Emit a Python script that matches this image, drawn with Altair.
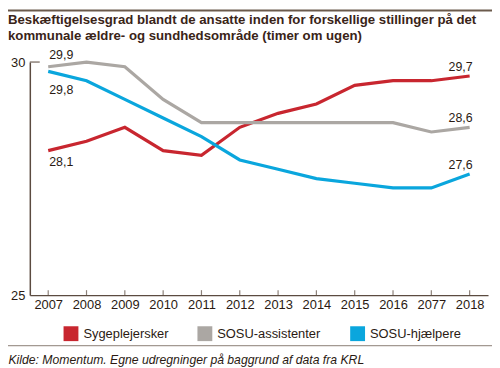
import altair as alt
import pandas as pd

years = ["2007", "2008", "2009", "2010", "2011", "2012", "2013", "2014", "2015", "2016", "2077", "2018"]
syge = [28.1, 28.3, 28.6, 28.1, 28.0, 28.6, 28.9, 29.1, 29.5, 29.6, 29.6, 29.7]
assist = [29.9, 30.0, 29.9, 29.2, 28.7, 28.7, 28.7, 28.7, 28.7, 28.7, 28.5, 28.6]
hjaelp = [29.8, 29.6, 29.2, 28.8, 28.4, 27.9, 27.7, 27.5, 27.4, 27.3, 27.3, 27.6]
series = ["Sygeplejersker", "SOSU-assistenter", "SOSU-hjælpere"]
colors = ["#c8262f", "#aba7a3", "#0aa6dd"]
title_lines = [
    "Beskæftigelsesgrad blandt de ansatte inden for forskellige stillinger på det",
    "kommunale ældre- og sundhedsområde (timer om ugen)",
]
source = "Kilde: Momentum. Egne udregninger på baggrund af data fra KRL"

W, H = 462, 235
TXT = "#2a1a12"
AX = "#5b4b40"
FONT = "Liberation Sans"

rows = []
for name, vals in zip(series, [syge, assist, hjaelp]):
    for y, v in zip(years, vals):
        rows.append({"year": y, "value": v, "series": name})
df = pd.DataFrame(rows)


def lab(v):
    return f"{v:.1f}".replace(".", ",")


xscale = alt.Scale(type="point", domain=years, padding=0.48)
yscale = alt.Scale(domain=[25, 30], nice=False, zero=False)

lines = alt.Chart(df).mark_line(strokeWidth=3.2).encode(
    x=alt.X("year:O", scale=xscale, sort=years,
            axis=alt.Axis(title=source, titleFontStyle="italic", titleFontWeight="normal",
                          titleFont=FONT, titleFontSize=12.3, titleColor=TXT,
                          titleAnchor="start", titleAlign="left", titleX=-22, titleY=69,
                          titleBaseline="alphabetic",
                          labelAngle=0, labelAlign="center", labelFont=FONT, labelFontSize=13,
                          labelColor=TXT, labelPadding=9, ticks=False, domainColor=AX,
                          domainWidth=1.5, grid=False)),
    y=alt.Y("value:Q", scale=yscale,
            axis=alt.Axis(title=None, values=[25, 30], ticks=False, labelPadding=5,
                          labelFont=FONT, labelFontSize=13, labelColor=TXT,
                          domainColor=AX, domainWidth=1.5, grid=False)),
    color=alt.Color("series:N", scale=alt.Scale(domain=series, range=colors),
                    legend=alt.Legend(title=None, orient="none", direction="horizontal",
                                      legendX=34, legendY=266, symbolType="square",
                                      symbolSize=56, symbolStrokeWidth=7.5, symbolOpacity=1,
                                      labelFont=FONT, labelFontSize=13,
                                      labelColor=TXT, columnPadding=17, labelOffset=5)),
    detail="series:N",
)

xticks = alt.Chart(pd.DataFrame({"year": years})).mark_tick(
    color=AX, orient="vertical", size=5, thickness=1.2, yOffset=-2.5
).encode(
    x=alt.X("year:O", scale=xscale, sort=years),
    y=alt.datum(25),
)

ytick = alt.Chart(pd.DataFrame({"v": [30]})).mark_tick(
    color=AX, orient="horizontal", size=10, thickness=1.5
).encode(
    y=alt.Y("v:Q", scale=yscale),
    x=alt.value(5),
)

# endpoint labels: (year, value, dy, align, dx)
label_specs = [
    (years[0], assist[0], -12, "left", 1),
    (years[0], hjaelp[0], 19, "left", 1),
    (years[0], syge[0], 12, "left", 1),
    (years[-1], syge[-1], -9, "right", 3),
    (years[-1], assist[-1], -9, "right", 3),
    (years[-1], hjaelp[-1], -9, "right", 3),
]
label_layers = []
for yr, val, dy, al, dx in label_specs:
    d = pd.DataFrame({"year": [yr], "value": [val], "label": [lab(val)]})
    label_layers.append(
        alt.Chart(d).mark_text(align=al, baseline="middle", font=FONT, fontSize=12.5,
                               color=TXT, dx=dx, dy=dy).encode(
            x=alt.X("year:O", scale=xscale, sort=years),
            y=alt.Y("value:Q", scale=yscale),
            text="label:N",
        )
    )

title = alt.Chart(pd.DataFrame({"a": [0]})).mark_text(
    align="left", baseline="top", font=FONT, fontSize=13.3, fontWeight="bold",
    color="#3a2418", lineBreak="\n", lineHeight=16,
).encode(
    x=alt.value(-22), y=alt.value(-49), text=alt.value("\n".join(title_lines)),
)

sep = alt.Chart(pd.DataFrame({"a": [0]})).mark_rule(color="#8a7d74", strokeWidth=1).encode(
    x=alt.value(-22), x2=alt.value(W + 4), y=alt.value(286),
)
toprule = alt.Chart(pd.DataFrame({"a": [0]})).mark_rule(color="#6b5a4c", strokeWidth=2).encode(
    x=alt.value(-22), x2=alt.value(W + 4), y=alt.value(-52),
)

chart = alt.layer(toprule, sep, title, xticks, ytick, lines, *label_layers).properties(
    width=W, height=H,
    autosize=alt.AutoSizeParams(type="none"),
    padding={"left": 22, "top": 53, "right": 4, "bottom": 76},
).configure_view(stroke=None)

chart.save("out.html", embed_options={"renderer": "svg", "actions": False})
